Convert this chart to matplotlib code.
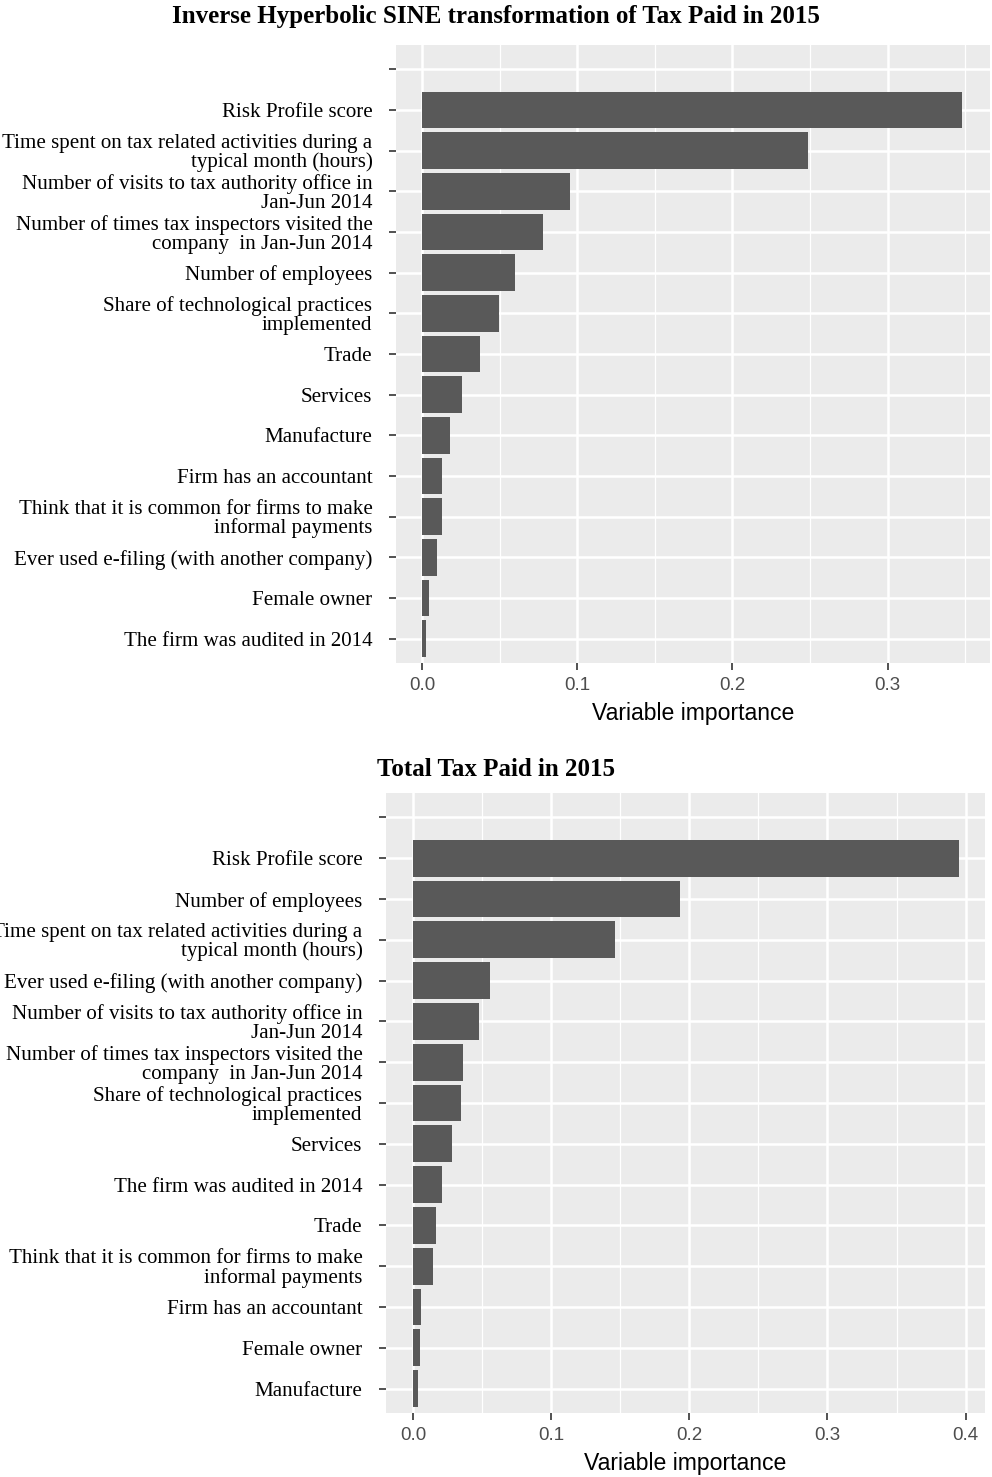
import numpy as np
import matplotlib.pyplot as plt
from matplotlib.ticker import MultipleLocator

# top panel: inverse hyperbolic sine transformation
labels_ihs = ["",
              "Risk Profile score",
              "Time spent on tax related activities during a\ntypical month (hours)",
              "Number of visits to tax authority office in\nJan-Jun 2014",
              "Number of times tax inspectors visited the\ncompany  in Jan-Jun 2014",
              "Number of employees",
              "Share of technological practices\nimplemented",
              "Trade",
              "Services",
              "Manufacture",
              "Firm has an accountant",
              "Think that it is common for firms to make\ninformal payments",
              "Ever used e-filing (with another company)",
              "Female owner",
              "The firm was audited in 2014"]
imp_ihs = [0.0, 0.348, 0.249, 0.0955, 0.078, 0.060, 0.0497, 0.0374, 0.0258,
           0.018, 0.0129, 0.0129, 0.0097, 0.0045, 0.0026]

# bottom panel: total tax paid
labels_total = ["",
                "Risk Profile score",
                "Number of employees",
                "Time spent on tax related activities during a\ntypical month (hours)",
                "Ever used e-filing (with another company)",
                "Number of visits to tax authority office in\nJan-Jun 2014",
                "Number of times tax inspectors visited the\ncompany  in Jan-Jun 2014",
                "Share of technological practices\nimplemented",
                "Services",
                "The firm was audited in 2014",
                "Trade",
                "Think that it is common for firms to make\ninformal payments",
                "Firm has an accountant",
                "Female owner",
                "Manufacture"]
imp_total = [0.0, 0.395, 0.193, 0.146, 0.0558, 0.0478, 0.0362, 0.0348, 0.0283,
             0.021, 0.0167, 0.0145, 0.0058, 0.005, 0.0036]

SERIF = "Liberation Serif"
SANS = "Liberation Sans"


def panel(ax, labels, values, title, xlim, xmax_tick, title_pad):
    y = np.arange(len(labels))
    ax.set_facecolor('#EBEBEB')
    ax.barh(y, values, height=0.9, color='#595959', zorder=3)
    ax.set_ylim(len(labels) - 0.4, -0.6)
    ax.set_xlim(*xlim)
    ax.set_yticks(y)
    ax.set_yticklabels(labels, fontfamily=SERIF, fontsize=15.1, linespacing=0.97,
                       color='black')
    ticks = np.arange(0, xmax_tick + 0.001, 0.1)
    ax.set_xticks(ticks)
    ax.set_xticklabels(["%.1f" % v for v in ticks],
                       fontfamily=SANS, fontsize=13.5, color='#4D4D4D')
    ax.xaxis.set_minor_locator(MultipleLocator(0.05))
    ax.grid(True, which='major', color='white', linewidth=1.8, zorder=0)
    ax.grid(True, which='minor', axis='x', color='white', linewidth=0.9, zorder=0)
    ax.tick_params(axis='y', length=5, width=1.2, color='#333333', pad=12)
    ax.tick_params(axis='x', length=5, width=1.2, color='#333333', pad=5)
    ax.tick_params(which='minor', length=0)
    for s in ax.spines.values():
        s.set_visible(False)
    ax.set_xlabel("Variable importance", fontfamily=SANS, fontsize=16.6,
                  labelpad=6)
    pos = ax.get_position()
    ax.set_title(title, fontfamily=SERIF, fontweight='bold', fontsize=18,
                 x=(496 / 992 - pos.x0) / pos.width, pad=title_pad)


fig = plt.figure(figsize=(9.92, 14.77), dpi=100)
ax1 = fig.add_axes([0.3992, 0.5511, 0.5988, 0.4184])
ax2 = fig.add_axes([0.3891, 0.0433, 0.6038, 0.4198])

panel(ax1, labels_ihs, imp_ihs,
      "Inverse Hyperbolic SINE transformation of Tax Paid in 2015",
      (-0.0168, 0.366), 0.3, 16)
panel(ax2, labels_total, imp_total, "Total Tax Paid in 2015",
      (-0.0196, 0.414), 0.4, 12)

fig.savefig("out.png", dpi=100, facecolor='white')
